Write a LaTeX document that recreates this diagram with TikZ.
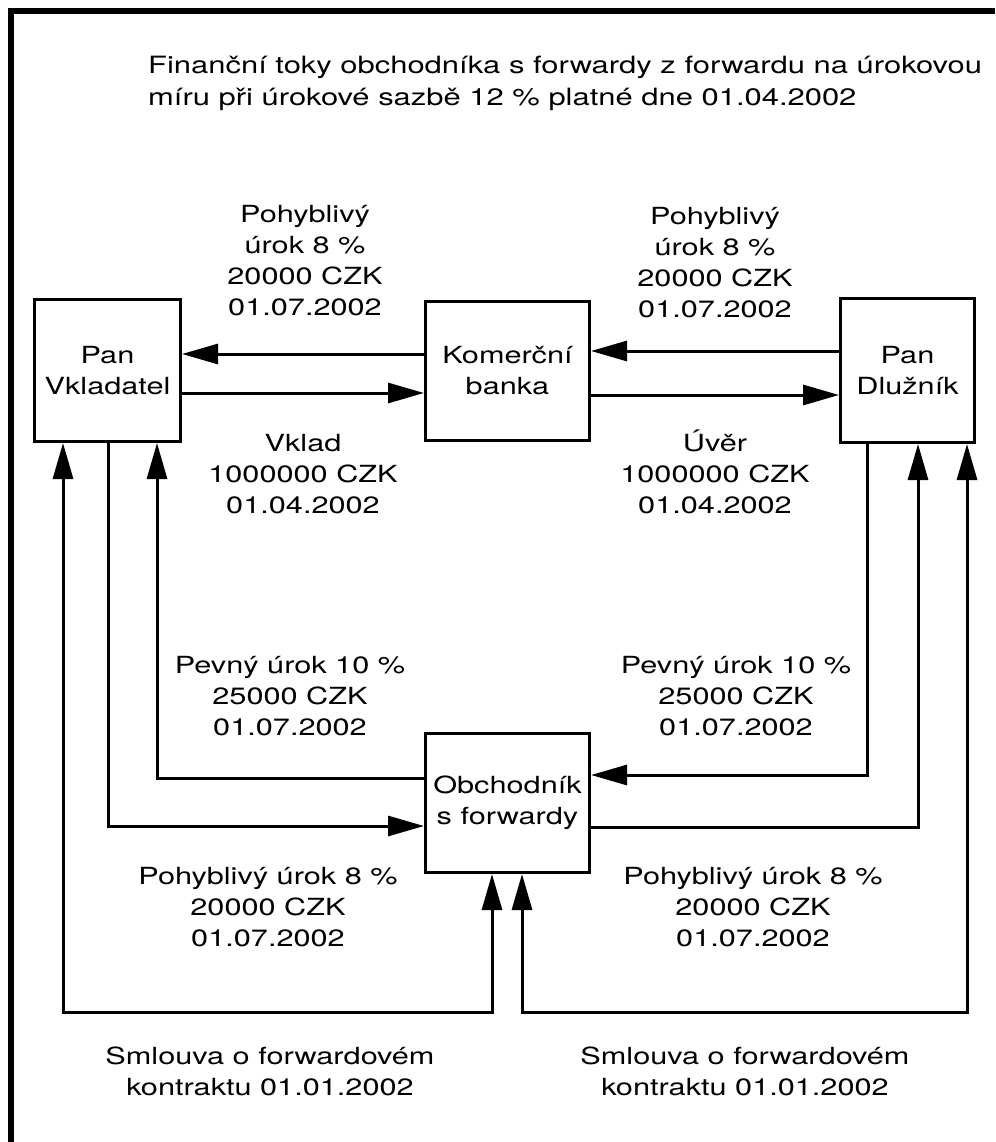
\documentclass[tikz,border=0pt]{standalone}
\usepackage{fontspec}
\setmainfont{TeX Gyre Heros}[FakeStretch=1.3]
\usetikzlibrary{arrows.meta}

\begin{document}
\begin{tikzpicture}[x=1pt,y=-1pt,
  every node/.style={font=\fontsize{23.6}{31}\selectfont},
  box/.style={draw,line width=3pt,inner sep=0pt,align=center},
  lbl/.style={align=center,inner sep=0pt,anchor=base},
  flow/.style={line width=3pt,line join=miter,-{Triangle[length=36pt,width=20pt]}},
  both/.style={line width=3pt,line join=miter,{Triangle[length=36pt,width=20pt]}-{Triangle[length=36pt,width=20pt]}}]
\useasboundingbox (0,0) rectangle (995,1142);

% outer frame
\draw[line width=6pt,line join=miter] (10.7,1142) -- (10.7,11) -- (995,11);

% title (base anchor sits on the last line)
\node[anchor=base west,align=left,inner sep=0pt,font=\fontsize{23.8}{32}\selectfont] (title) at (148,106)
  {Finanční toky obchodníka s forwardy z forwardu na úrokovou\\míru při úrokové sazbě 12 \% platné dne 01.04.2002};

% parties
\node[box,minimum width=146pt,minimum height=142pt] (vk) at (107.5,370.5) {Pan\\Vkladatel};
\node[box,minimum width=164pt,minimum height=139pt] (kb) at (507.5,371) {Komerční\\banka};
\node[box,minimum width=134pt,minimum height=144pt] (dl) at (907.5,370.5) {Pan\\Dlužník};
\node[box,minimum width=164pt,minimum height=139pt] (ob) at (507.5,803) {Obchodník\\s forwardy};

% routing levels
\coordinate (r1) at (0,354);
\coordinate (r2) at (0,393);
\coordinate (r3) at (0,351);
\coordinate (r4) at (0,395);
\coordinate (r5) at (0,778);
\coordinate (r6) at (0,826);
\coordinate (r7) at (0,775);
\coordinate (r8) at (0,827);
\coordinate (rb) at (0,1012);
\coordinate (c1) at (63,0);
\coordinate (c2) at (108,0);
\coordinate (c3) at (157,0);
\coordinate (c4) at (492,0);
\coordinate (c5) at (522,0);
\coordinate (c6) at (867,0);
\coordinate (c7) at (918,0);
\coordinate (c8) at (967,0);

% money flows
\draw[flow] (kb.west |- r1) -- (vk.east |- r1);
\draw[flow] (vk.east |- r2) -- (kb.west |- r2);
\draw[flow] (dl.west |- r3) -- (kb.east |- r3);
\draw[flow] (kb.east |- r4) -- (dl.west |- r4);
\draw[flow] (ob.west |- r5) -- (c3 |- r5) -- (vk.south -| c3);
\draw[flow] (vk.south -| c2) -- (c2 |- r6) -- (ob.west |- r6);
\draw[flow] (dl.south -| c6) -- (c6 |- r7) -- (ob.east |- r7);
\draw[flow] (ob.east |- r8) -- (c7 |- r8) -- (dl.south -| c7);

% forward contracts
\draw[both] (vk.south -| c1) -- (c1 |- rb) -- (c4 |- rb) -- (ob.south -| c4);
\draw[both] (ob.south -| c5) -- (c5 |- rb) -- (c8 |- rb) -- (dl.south -| c8);

% flow labels (base anchor sits on the last line)
\node[lbl] (l1) at (305,315) {Pohyblivý\\úrok 8 \%\\20000 CZK\\01.07.2002};
\node[lbl] (l2) at (715,317) {Pohyblivý\\úrok 8 \%\\20000 CZK\\01.07.2002};
\node[lbl] (l3) at (303,513) {Vklad\\1000000 CZK\\01.04.2002};
\node[lbl] (l4) at (715,513) {Úvěr\\1000000 CZK\\01.04.2002};
\node[lbl] (l5) at (290,735) {Pevný úrok 10 \%\\25000 CZK\\01.07.2002};
\node[lbl] (l6) at (736,735) {Pevný úrok 10 \%\\25000 CZK\\01.07.2002};
\node[lbl] (l7) at (268,946) {Pohyblivý úrok 8 \%\\20000 CZK\\01.07.2002};
\node[lbl] (l8) at (753,946) {Pohyblivý úrok 8 \%\\20000 CZK\\01.07.2002};
\node[lbl] (l9) at (270,1095) {Smlouva o forwardovém\\kontraktu 01.01.2002};
\node[lbl] (l10) at (745,1095) {Smlouva o forwardovém\\kontraktu 01.01.2002};
\end{tikzpicture}
\end{document}
